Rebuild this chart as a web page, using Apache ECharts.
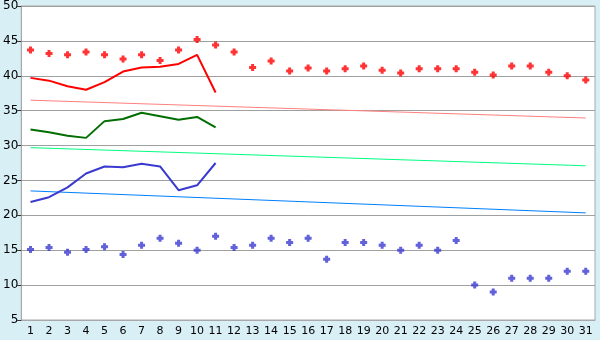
<!DOCTYPE html>
<html><head><meta charset="utf-8">
<script src="https://cdn.jsdelivr.net/npm/echarts@6/dist/echarts.min.js"></script>
<style>html,body{margin:0;padding:0;background:#d9eff6;}#c{width:600px;height:340px;}</style>
</head><body><div id="c"></div>
<script>
var categories = ['1','2','3','4','5','6','7','8','9','10','11','12','13','14','15','16','17','18','19','20','21','22','23','24','25','26','27','28','29','30','31'];
var redPoints = [43.7,43.2,43.0,43.4,43.0,42.4,43.0,42.2,43.7,45.2,44.4,43.4,41.2,42.1,40.7,41.1,40.7,41.0,41.4,40.8,40.4,41.0,41.0,41.0,40.5,40.1,41.4,41.4,40.5,40.0,39.4];
var bluePoints = [15.1,15.4,14.7,15.1,15.5,14.4,15.7,16.7,16.0,15.0,17.0,15.4,15.7,16.7,16.1,16.7,13.7,16.1,16.1,15.7,15.0,15.7,15.0,16.4,10,9,11,11,11,12,12];
var redLine = [39.7,39.3,38.5,38.0,39.1,40.6,41.2,41.3,41.7,43.0,37.6];
var greenLine = [32.3,31.9,31.4,31.1,33.5,33.8,34.7,34.2,33.7,34.1,32.6];
var blueLine = [21.9,22.6,24.0,26.0,27.0,26.9,27.4,27.0,23.6,24.3,27.5];
var pinkTrend = [36.5, 33.95];
var greenTrend = [29.7, 27.1];
var blueTrend = [23.5, 20.35];
var yTicks = {min:5, max:50, step:5};

function trend(v){ return [[categories[0], v[0]], [categories[categories.length-1], v[1]]]; }
var plus = 'path://M2,0H5V2H7V5H5V7H2V5H0V2H2Z';
var chart = echarts.init(document.getElementById('c'), null, {renderer:'canvas'});
var font = 'DejaVu Sans, Verdana, sans-serif';
chart.setOption({
  animation:false,
  backgroundColor:'#d9eff6',
  grid:{left:20,right:5,top:5,bottom:20,show:true,backgroundColor:'#ffffff',borderColor:'#a8a8a8',borderWidth:1},
  xAxis:{type:'category',data:categories,boundaryGap:true,
    axisLine:{lineStyle:{color:'#a8a8a8'}},
    axisTick:{alignWithLabel:true,length:5,lineStyle:{color:'#333333'}},
    axisLabel:{color:'#000',fontSize:11,fontFamily:font,margin:6,interval:0}},
  yAxis:{type:'value',min:yTicks.min,max:yTicks.max,interval:yTicks.step,
    axisLine:{show:true,lineStyle:{color:'#a8a8a8'}},
    axisTick:{show:true,length:4,lineStyle:{color:'#333333'}},
    splitLine:{lineStyle:{color:'#a0a0a0',width:1}},
    axisLabel:{color:'#000',fontSize:12,fontFamily:font,margin:3}},
  series:[
    {type:'line',data:trend(pinkTrend),symbol:'none',lineStyle:{color:'#ff8080',width:1}},
    {type:'line',data:trend(greenTrend),symbol:'none',lineStyle:{color:'#00ff80',width:1}},
    {type:'line',data:trend(blueTrend),symbol:'none',lineStyle:{color:'#0080ff',width:1}},
    {type:'line',data:redLine,symbol:'none',lineStyle:{color:'#ff0000',width:2}},
    {type:'line',data:greenLine,symbol:'none',lineStyle:{color:'#006e00',width:2}},
    {type:'line',data:blueLine,symbol:'none',lineStyle:{color:'#3a3ad0',width:2}},
    {type:'scatter',data:redPoints,symbol:plus,symbolSize:7,itemStyle:{color:'#ff0000'}},
    {type:'scatter',data:bluePoints,symbol:plus,symbolSize:7,itemStyle:{color:'#3a3ad0'}}
  ]
});
</script></body></html>
